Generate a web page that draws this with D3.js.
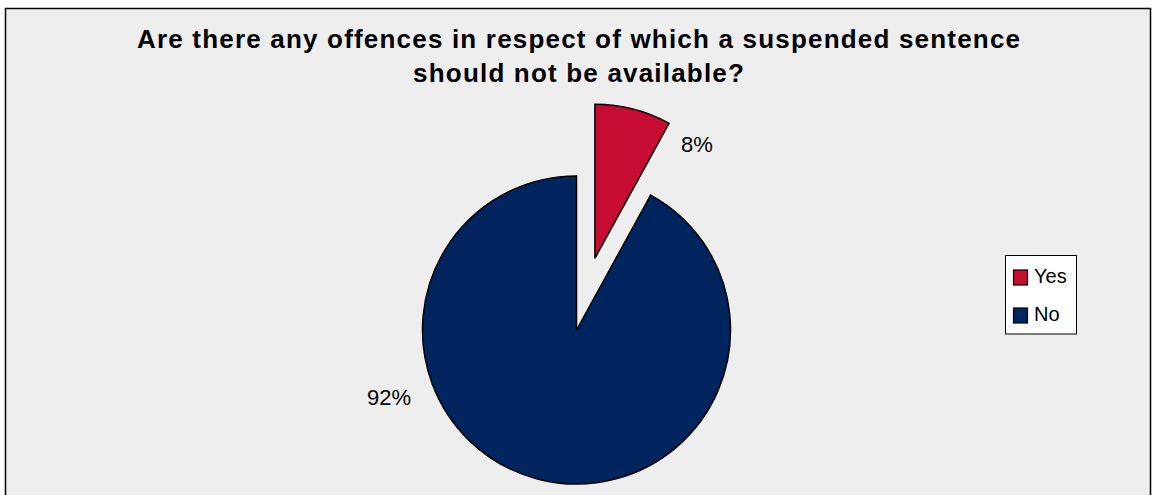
<!DOCTYPE html>
<html><head><meta charset="utf-8">
<script src="https://cdn.jsdelivr.net/npm/d3@7"></script>
<style>html,body{margin:0;padding:0;background:#fff;}svg{display:block;}</style>
</head><body>
<svg id="c" width="1152" height="495"></svg>
<script>
const categories = ["Yes", "No"];
const values = [8, 92];
const labels = ["8%", "92%"];
const colors = ["#C60C30", "#00245D"];
const titleLines = ["Are there any offences in respect of which a suspended sentence", "should not be available?"];

const FONT = "Liberation Sans, Arial, sans-serif";
const svg = d3.select("#c");
svg.append("rect").attr("x",5.5).attr("y",8.5).attr("width",1145).attr("height",495)
  .attr("fill","#eeeeee").attr("stroke","#000").attr("stroke-width",1.5);

const tl = titleLines.map((t,i)=>svg.append("text").attr("text-anchor","middle")
  .attr("font-family",FONT).attr("font-weight","bold")
  .attr("font-size",26).attr("fill","#000").attr("x",577).attr("y",47.5+i*34).text(t));
const w0 = tl[0].node().getComputedTextLength();
const ls = (883 - w0) / (titleLines[0].length - 1);
tl.forEach(t=>t.attr("letter-spacing", ls).attr("x", 578.5 + ls/2));

const cx=576.5, cy=330, r=154, explode=74;
const pie = d3.pie().sort(null).value(d=>d);
const arcs = pie(values);
const arc = d3.arc().innerRadius(0).outerRadius(r);
const g = svg.append("g").attr("transform",`translate(${cx},${cy})`);
arcs.forEach((a,i)=>{
  const mid=(a.startAngle+a.endAngle)/2;
  const off = i===0?explode:0;
  g.append("path").attr("d",arc(a))
   .attr("transform",`translate(${Math.sin(mid)*off},${-Math.cos(mid)*off})`)
   .attr("fill",colors[i]).attr("stroke","#000").attr("stroke-width",1.5).attr("stroke-linejoin","miter");
});
// labels
const labelPos = [[697,152],[389,405]];
arcs.forEach((a,i)=>{
  g.append("text").attr("x",labelPos[i][0]-cx).attr("y",labelPos[i][1]-cy)
   .attr("text-anchor","middle").attr("font-family",FONT)
   .attr("font-size",22).attr("fill","#000").text(labels[i]);
});

// legend
const lg = svg.append("g").attr("transform","translate(1005.5,255.5)");
lg.append("rect").attr("width",71).attr("height",78.5).attr("fill","#fff").attr("stroke","#000").attr("stroke-width",1);
categories.forEach((c,i)=>{
  lg.append("rect").attr("x",8).attr("y",14.5+i*38).attr("width",14).attr("height",15)
    .attr("fill",colors[i]).attr("stroke","#000").attr("stroke-width",1.2);
  lg.append("text").attr("x",28.5).attr("y",27+i*38).attr("font-family",FONT)
    .attr("font-size",20).attr("fill","#000").text(c);
});
</script>
</body></html>
